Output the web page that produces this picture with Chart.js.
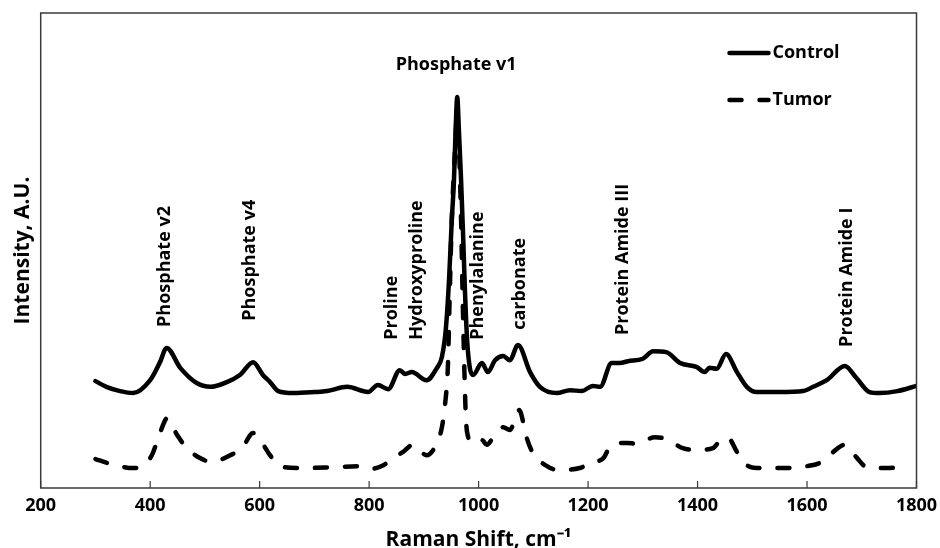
<!DOCTYPE html>
<html>
<head>
<meta charset="utf-8">
<script src="https://cdn.jsdelivr.net/npm/chart.js@4.4.1/dist/chart.umd.min.js"></script>
<style>
    html, body { margin: 0; padding: 0; background: #fff; }
    #wrap { width: 940px; height: 548px; }
</style>
</head>
<body>
<div id="wrap"><canvas id="ramanChart"></canvas></div>
<script>
// Raman spectra (intensity in arbitrary units, 0-100 across the plot height)
const controlShift = [300, 320, 345, 369, 400, 418, 430, 455, 485, 510, 540, 564, 588, 606, 619, 634, 661, 700, 723, 760,
    798, 816, 835, 856, 866, 878, 905, 924, 933, 940, 946, 951, 955, 958, 961, 964, 968, 972, 975, 979,
    984, 990, 1006, 1017, 1030, 1045, 1057, 1072, 1094, 1112, 1143, 1167, 1188, 1209, 1222, 1243, 1258, 1273, 1300, 1319,
    1343, 1368, 1398, 1413, 1422, 1435, 1452, 1472, 1490, 1508, 1550, 1593, 1611, 1636, 1669, 1690, 1714, 1732, 1765, 1800];
const controlIntensity = [22.5, 21.3, 20.4, 20.0, 22.7, 26.5, 29.5, 25.3, 22.1, 21.3, 22.3, 23.8, 26.5, 23.8, 22.3, 20.4, 20.0, 20.2, 20.4, 21.3,
    20.2, 21.7, 20.8, 24.8, 24.0, 24.4, 22.7, 25.3, 27.6, 33.3, 43.8, 56.4, 64.8, 75.4, 82.3, 75.4, 64.8, 52.2, 41.7, 31.2,
    25.3, 23.8, 26.3, 24.4, 26.9, 27.8, 26.9, 30.1, 24.4, 21.3, 20.0, 20.6, 20.4, 21.5, 21.3, 26.3, 26.3, 26.7, 27.2, 28.8,
    28.6, 26.3, 25.5, 24.4, 25.3, 25.1, 28.2, 24.4, 21.3, 20.2, 20.2, 20.4, 21.3, 22.7, 25.7, 23.2, 20.2, 20.0, 20.4, 21.5];

const tumorShift = [300, 327, 369, 382, 403, 418, 431, 449, 467, 491, 513, 546, 568, 588, 601, 619, 637, 674, 740, 780,
    802, 826, 844, 862, 880, 905, 924, 933, 939, 944, 947, 951, 956, 961, 965, 968, 971, 974, 977, 981,
    987, 1006, 1015, 1027, 1045, 1057, 1074, 1088, 1099, 1125, 1145, 1185, 1204, 1228, 1243, 1271, 1289, 1322, 1343, 1373,
    1398, 1428, 1444, 1456, 1472, 1490, 1508, 1550, 1600, 1627, 1648, 1669, 1690, 1709, 1745, 1773];
const tumorIntensity = [6.1, 5.1, 4.2, 4.4, 6.9, 11.6, 14.7, 11.2, 8.4, 6.3, 5.5, 6.9, 8.4, 11.6, 10.1, 6.9, 4.6, 4.2, 4.4, 4.6,
    4.0, 4.8, 6.3, 7.6, 9.1, 6.9, 9.5, 12.8, 17.9, 25.9, 39.6, 56.4, 69.1, 78.5, 69.1, 56.4, 39.6, 24.8, 14.3, 10.7,
    9.5, 10.1, 9.1, 10.7, 12.8, 12.2, 16.4, 10.5, 7.4, 4.6, 3.8, 4.2, 5.3, 6.3, 9.1, 9.5, 9.3, 10.7, 10.3, 8.4,
    8.0, 8.4, 10.3, 10.5, 7.6, 4.8, 4.2, 4.2, 4.6, 5.5, 7.6, 9.1, 6.5, 4.4, 4.2, 4.4];

const xTicks = [200, 400, 600, 800, 1000, 1200, 1400, 1600, 1800];

// Band labels: text, shift and the intensity where the (rotated) label starts
const bandNames = ['Phosphate v2', 'Phosphate v4', 'Proline', 'Hydroxyproline', 'Phenylalanine', 'carbonate', 'Protein Amide III', 'Protein Amide I'];
const bandShift = [427, 583, 842, 888, 999, 1076, 1264, 1673];
const bandLevel = [33.9, 35.2, 31.2, 31.2, 31.2, 33.3, 32.2, 29.7];

const seriesNames = ['Control', 'Tumor'];

const FONT = '"Open Sans", "Liberation Sans", sans-serif';

const toPoints = (xs, ys) => xs.map((x, i) => ({ x: x, y: ys[i] }));

const decorPlugin = {
    id: 'decor',
    afterDraw(chart) {
        const ctx = chart.ctx;
        const area = chart.chartArea;
        const xs = chart.scales.x;
        const ys = chart.scales.y;

        ctx.save();

        // frame
        ctx.strokeStyle = '#3a3a3a';
        ctx.lineWidth = 1.5;
        ctx.strokeRect(area.left, area.top, area.right - area.left, area.bottom - area.top);

        // inside tick marks
        ctx.lineWidth = 1.2;
        xTicks.forEach(t => {
            const px = xs.getPixelForValue(t);
            ctx.beginPath();
            ctx.moveTo(px, area.bottom);
            ctx.lineTo(px, area.bottom - 7);
            ctx.stroke();
        });

        // band labels
        ctx.fillStyle = '#000';
        ctx.font = 'bold 18px ' + FONT;
        ctx.textBaseline = 'middle';
        ctx.textAlign = 'left';
        bandNames.forEach((name, i) => {
            const px = xs.getPixelForValue(bandShift[i]);
            const py = ys.getPixelForValue(bandLevel[i]);
            ctx.save();
            ctx.translate(px, py);
            ctx.rotate(-Math.PI / 2);
            ctx.fillText(name, 0, 0);
            ctx.restore();
        });

        ctx.textAlign = 'center';
        ctx.fillText('Phosphate v1', xs.getPixelForValue(959), ys.getPixelForValue(89.1));

        // legend
        const lx = area.right - 189;
        const rows = [53, 100];
        ctx.lineWidth = 4.5;
        ctx.lineCap = 'round';
        ctx.strokeStyle = '#000';
        rows.forEach((ry, i) => {
            ctx.beginPath();
            ctx.setLineDash(i === 0 ? [] : [12, 18]);
            ctx.moveTo(lx + 2, ry);
            ctx.lineTo(lx + 41, ry);
            ctx.stroke();
        });
        ctx.setLineDash([]);
        ctx.font = 'bold 18px ' + FONT;
        ctx.textAlign = 'left';
        rows.forEach((ry, i) => {
            ctx.fillText(seriesNames[i], lx + 45, ry);
        });

        ctx.restore();
    }
};

new Chart(document.getElementById('ramanChart'), {
    type: 'line',
    data: {
        datasets: [{
            label: seriesNames[0],
            data: toPoints(controlShift, controlIntensity),
            borderColor: '#000',
            borderWidth: 4.5,
            borderCapStyle: 'round',
            borderJoinStyle: 'round',
            pointRadius: 0,
            cubicInterpolationMode: 'monotone',
            fill: false
        }, {
            label: seriesNames[1],
            data: toPoints(tumorShift, tumorIntensity),
            borderColor: '#000',
            borderWidth: 4.5,
            borderDash: [12, 18],
            borderCapStyle: 'round',
            borderJoinStyle: 'round',
            pointRadius: 0,
            cubicInterpolationMode: 'monotone',
            fill: false
        }]
    },
    options: {
        responsive: true,
        maintainAspectRatio: false,
        animation: false,
        layout: { padding: { left: 8, right: 23.5, top: 13, bottom: 0 } },
        plugins: {
            legend: { display: false },
            tooltip: { enabled: false }
        },
        scales: {
            x: {
                type: 'linear',
                min: 200,
                max: 1800,
                afterBuildTicks: axis => { axis.ticks = xTicks.map(v => ({ value: v })); },
                // keep the plot edges where the layout padding puts them
                afterFit: axis => { axis.paddingLeft = 0; axis.paddingRight = 0; },
                grid: { display: false, drawTicks: false },
                border: { display: false },
                ticks: {
                    color: '#000',
                    padding: 7,
                    font: { family: FONT, size: 18, weight: 'bold' },
                    callback: value => String(value)
                },
                title: {
                    display: true,
                    text: 'Raman Shift, cm⁻¹',
                    color: '#000',
                    padding: { top: 8.4, bottom: 0 },
                    font: { family: FONT, size: 21, weight: 'bold', lineHeight: '16px' }
                }
            },
            y: {
                min: 0,
                max: 100,
                grid: { display: false, drawTicks: false },
                border: { display: false },
                ticks: { display: false },
                title: {
                    display: true,
                    text: 'Intensity, A.U.',
                    color: '#000',
                    padding: { top: 2, bottom: 5.5 },
                    font: { family: FONT, size: 21, weight: 'bold' }
                }
            }
        }
    },
    plugins: [decorPlugin]
});
</script>
</body>
</html>
